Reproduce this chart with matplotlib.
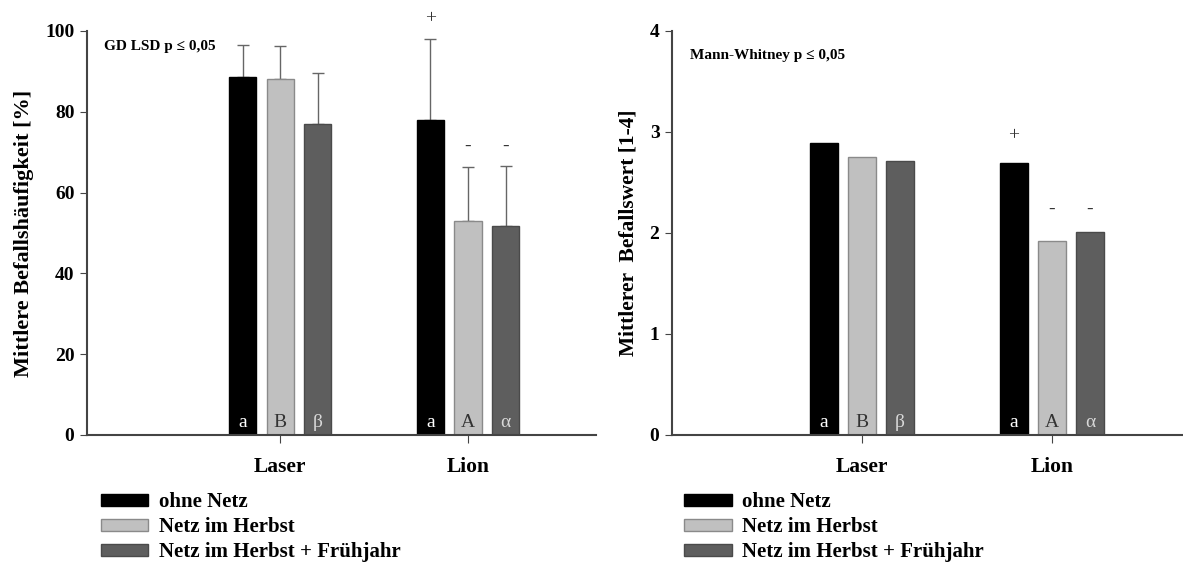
import matplotlib
matplotlib.use("Agg")
from matplotlib import pyplot as plt
from matplotlib.patches import Patch
import numpy as np

plt.rcParams['font.family'] = ['Liberation Serif', 'DejaVu Serif']

sorten = ["Laser", "Lion"]
varianten = ["ohne Netz", "Netz im Herbst", "Netz im Herbst + Frühjahr"]
farben = ['#000000', '#c0c0c0', '#5e5e5e']
kanten = ['#000000', '#8a8a8a', '#4a4a4a']
textfarben = ['white', '#333333', '#d8d8d8']

# Befallshaeufigkeit [%], je Variante: Laser, Lion
haeufigkeit = [[88.7, 78.0], [88.0, 52.9], [77.0, 51.8]]
haeufigkeit_oben = [[96.5, 98.1], [96.3, 66.3], [89.5, 66.6]]
# Befallswert [1-4]
befallswert = [[2.89, 2.69], [2.75, 1.92], [2.71, 2.01]]

buchstaben = [["a", "a"], ["B", "A"], ["β", "α"]]
zeichen_links = [["", "+"], ["", "-"], ["", "-"]]
zeichen_links_y = [[0, 103], [0, 71.5], [0, 71.5]]
zeichen_rechts = [["", "+"], ["", "-"], ["", "-"]]
zeichen_rechts_y = [[0, 2.96], [0, 2.23], [0, 2.23]]

fig = plt.figure(figsize=(11.83, 5.62), dpi=100)
ax1 = fig.add_axes([0.0735, 0.226, 0.43, 0.719])
ax2 = fig.add_axes([0.568, 0.226, 0.432, 0.719])

x = np.arange(len(sorten))
breite = 0.144
abst = 0.2

def panel(ax, werte, oben, zeichen, zeichen_y, ymax, yticks, ylabel, note, note_xy, xlim, txt_y, ylsize):
    for i in range(3):
        pos = x + (i - 1) * abst
        ax.bar(pos, werte[i], breite, color=farben[i], edgecolor=kanten[i], linewidth=1, zorder=2)
        if oben is not None:
            err = np.array(oben[i]) - np.array(werte[i])
            ax.errorbar(pos, werte[i], yerr=[np.zeros(2), err], fmt='none',
                        ecolor='#666666', elinewidth=1, capsize=4.5, capthick=1, zorder=1)
        for j in range(2):
            ax.text(pos[j], txt_y, buchstaben[i][j], ha='center', va='bottom',
                    color=textfarben[i], fontsize=14)
            if zeichen[i][j]:
                ax.text(pos[j], zeichen_y[i][j], zeichen[i][j], ha='center', va='center',
                        color='#333333', fontsize=14)
    ax.set_xlim(*xlim)
    ax.set_ylim(0, ymax)
    ax.set_yticks(yticks)
    ax.set_xticks(x)
    ax.set_xticklabels(sorten, fontsize=15.5, fontweight='bold')
    for lab in ax.get_yticklabels():
        lab.set_fontweight('bold')
        lab.set_fontsize(14)
    ax.spines['top'].set_visible(False)
    ax.spines['right'].set_visible(False)
    for s in ['left', 'bottom']:
        ax.spines[s].set_color('#444444')
        ax.spines[s].set_linewidth(1.5)
    ax.tick_params(axis='y', direction='out', length=5, color='#444444', pad=4)
    ax.tick_params(axis='x', direction='out', length=6, color='#444444', pad=10)
    ax.set_ylabel(ylabel, fontsize=ylsize, fontweight='bold', labelpad=8)
    ax.text(note_xy[0], note_xy[1], note, transform=ax.transAxes, fontsize=11,
            fontweight='bold', ha='left', va='center')

panel(ax1, haeufigkeit, haeufigkeit_oben, zeichen_links, zeichen_links_y, 100,
      [0, 20, 40, 60, 80, 100], "Mittlere Befallshäufigkeit [%]", "GD LSD p ≤ 0,05",
      (0.034, 0.962), (-1.03, 1.68), 1.0, 16)
panel(ax2, befallswert, None, zeichen_rechts, zeichen_rechts_y, 4,
      [0, 1, 2, 3, 4], "Mittlerer  Befallswert [1-4]", "Mann-Whitney p ≤ 0,05",
      (0.035, 0.94), (-1.0, 1.69), 0.04, 15.5)

handles = [Patch(facecolor=farben[i], edgecolor=kanten[i]) for i in range(3)]
for xa in [0.085, 0.578]:
    fig.legend(handles, varianten, loc='upper left', bbox_to_anchor=(xa, 0.124),
               frameon=False, prop={'family': 'Liberation Serif', 'weight': 'bold', 'size': 15},
               handlelength=2.3, handleheight=0.55, labelspacing=0.24,
               handletextpad=0.5, borderaxespad=0, borderpad=0)

fig.savefig("out.png", dpi=100)
